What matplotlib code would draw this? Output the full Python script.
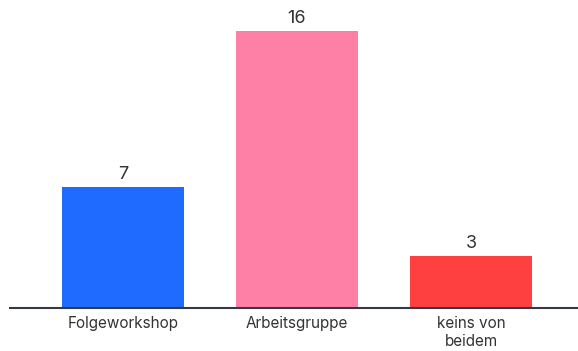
import numpy as np
import matplotlib.pyplot as plt

plt.rcParams['font.family'] = ['Inter', 'DejaVu Sans']

# Daten
categories = ['Folgeworkshop', 'Arbeitsgruppe', 'keins von\nbeidem']
values = [7, 16, 3]
colors = ['#1f6bff', '#ff80a6', '#ff4040']

fig = plt.figure(figsize=(5.78, 3.51), dpi=100)
ax = fig.add_axes([10 / 578, 43 / 351, 568 / 578, 308 / 351])

x = np.arange(len(categories))
bars = ax.bar(x, values, width=0.70, color=colors)

for b, v in zip(bars, values):
    ax.text(b.get_x() + b.get_width() / 2, v + 0.22, str(v),
            ha='center', va='bottom', fontsize=13, color='#333333')

ax.set_xlim(-0.649, 2.615)
ax.set_ylim(0, 17.79)
ax.set_xticks(x)
ax.set_xticklabels(categories, fontsize=11, color='#333333', linespacing=1.2)
ax.tick_params(axis='x', length=0, pad=6)
ax.set_yticks([])
for s in ['top', 'right', 'left']:
    ax.spines[s].set_visible(False)
ax.spines['bottom'].set_color('#333a45')
ax.spines['bottom'].set_linewidth(1.5)

fig.savefig('out.png', dpi=100)
